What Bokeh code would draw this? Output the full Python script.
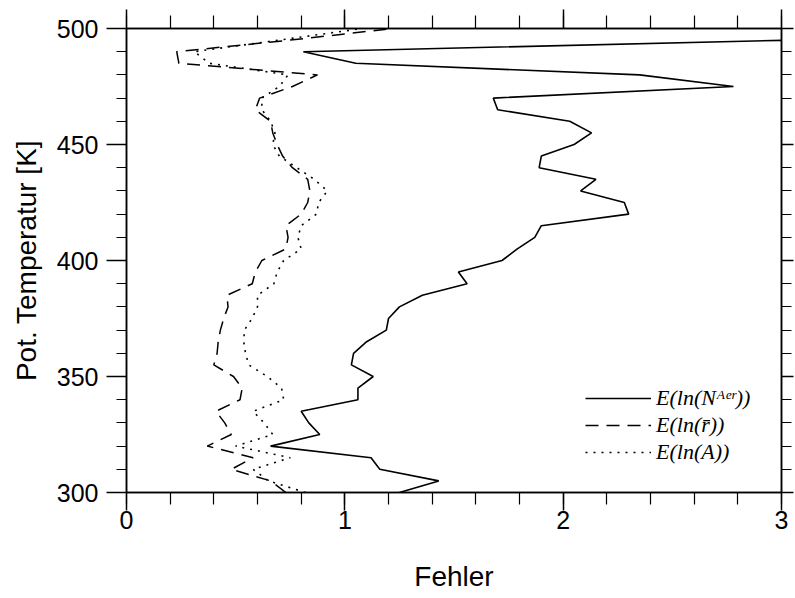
from bokeh.plotting import figure
from bokeh.models import (LinearAxis, FixedTicker, Range1d, Legend, LegendItem,
                          CustomLabelingPolicy)
from bokeh.embed import file_html
from bokeh.resources import INLINE

# potential temperature levels [K]
theta = [300, 305, 310, 315, 320, 325, 330, 335, 340, 345,
         350, 355, 360, 365, 370, 375, 380, 385, 390, 395,
         400, 405, 410, 415, 420, 425, 430, 435, 440, 445,
         450, 455, 460, 465, 470, 475, 480, 485, 490, 495, 500]

# E(ln(N^Aer)) (300..495 K)
err_N = [1.25, 1.43, 1.16, 1.12, 0.66, 0.885, 0.835, 0.80, 1.06, 1.06,
         1.13, 1.03, 1.04, 1.10, 1.19, 1.20, 1.25, 1.355, 1.56, 1.52,
         1.72, 1.79, 1.87, 1.90, 2.30, 2.28, 2.08, 2.15, 1.89, 1.90,
         2.05, 2.13, 2.03, 1.70, 1.68, 2.78, 2.35, 1.05, 0.81, 3.05]

# E(ln(r))
err_r = [0.73, 0.66, 0.48, 0.58, 0.37, 0.48, 0.45, 0.41, 0.52, 0.53,
         0.49, 0.40, 0.415, 0.42, 0.43, 0.445, 0.465, 0.46, 0.576, 0.59,
         0.62, 0.73, 0.74, 0.73, 0.80, 0.83, 0.84, 0.83, 0.76, 0.715,
         0.69, 0.67, 0.66, 0.59, 0.61, 0.76, 0.875, 0.24, 0.23, 0.75, 1.22]

# E(ln(A))
err_A = [0.82, 0.65, 0.58, 0.75, 0.50, 0.67, 0.63, 0.58, 0.72, 0.71,
         0.645, 0.56, 0.545, 0.537, 0.54, 0.575, 0.60, 0.60, 0.675, 0.69,
         0.72, 0.80, 0.785, 0.80, 0.87, 0.88, 0.92, 0.86, 0.78, 0.70,
         0.67, 0.68, 0.66, 0.62, 0.62, 0.70, 0.74, 0.38, 0.31, 0.70, 1.08]

x_major = [0, 1, 2, 3]
x_minor = [i * 0.2 for i in range(16)]
y_major = [300, 350, 400, 450, 500]
y_minor = list(range(300, 510, 10))

labels = ["E(ln(Nᴬᵉʳ))", "E(ln(r̄))", "E(ln(A))"]

FONT = "Liberation Sans"

p = figure(frame_width=655, frame_height=464,
           x_range=Range1d(0, 3), y_range=Range1d(300, 500),
           output_backend="svg", toolbar_location=None,
           min_border_left=126, min_border_top=28,
           min_border_right=0, min_border_bottom=0,
           x_axis_location=None, y_axis_location=None)
p.xgrid.visible = False
p.ygrid.visible = False
p.outline_line_color = "black"
p.outline_line_width = 1.5
p.background_fill_color = "white"
p.border_fill_color = "white"

no_labels = CustomLabelingPolicy(
    code="return new indices.constructor(indices.size, 0)")


def style_axis(ax, major, minor, tick_major, tick_minor, show_labels):
    ax.ticker = FixedTicker(ticks=major, minor_ticks=minor)
    ax.axis_line_color = "black"
    ax.axis_line_width = 1.5
    ax.major_tick_line_color = "black"
    ax.major_tick_line_width = 1.5
    ax.minor_tick_line_color = "black"
    ax.minor_tick_line_width = 1.2
    ax.major_tick_in = 0
    ax.minor_tick_in = 0
    ax.major_tick_out = tick_major
    ax.minor_tick_out = tick_minor
    if show_labels:
        ax.major_label_text_font = FONT
        ax.major_label_text_font_size = "25px"
        ax.major_label_text_color = "black"
    else:
        ax.major_label_policy = no_labels
        ax.major_label_text_font_size = "1px"
        ax.major_label_standoff = 0


xb = LinearAxis(axis_label="Fehler")
style_axis(xb, x_major, x_minor, 18, 12, True)
xb.major_label_standoff = 0
xb.axis_label_standoff = 29
xb.axis_label_text_font = FONT
xb.axis_label_text_font_size = "28px"
xb.axis_label_text_font_style = "normal"
xb.axis_label_text_color = "black"
p.add_layout(xb, "below")

yl = LinearAxis(axis_label="Pot. Temperatur [K]")
style_axis(yl, y_major, y_minor, 20, 10, True)
yl.major_label_standoff = 8
yl.axis_label_standoff = 12
yl.axis_label_text_font = FONT
yl.axis_label_text_font_size = "28px"
yl.axis_label_text_font_style = "normal"
yl.axis_label_text_color = "black"
p.add_layout(yl, "left")

xt = LinearAxis()
style_axis(xt, x_major, x_minor, 19, 13, False)
p.add_layout(xt, "above")

yr = LinearAxis()
style_axis(yr, y_major, y_minor, 12, 10, False)
p.add_layout(yr, "right")

rN = p.line(err_N, theta[:len(err_N)], line_color="black", line_width=1.6)
rR = p.line(err_r, theta, line_color="black", line_width=1.5, line_dash="13 8")
rA = p.line(err_A, theta, line_color="black", line_width=1.6, line_dash="2 6")

legend = Legend(items=[LegendItem(label=labels[0], renderers=[rN]),
                       LegendItem(label=labels[1], renderers=[rR]),
                       LegendItem(label=labels[2], renderers=[rA])],
                location=(459, 27))
legend.glyph_width = 66
legend.glyph_height = 20
legend.label_height = 20
legend.label_standoff = 5
legend.spacing = 1
legend.padding = 2
legend.margin = 0
legend.border_line_color = None
legend.background_fill_alpha = 0
legend.label_text_font = "Liberation Serif"
legend.label_text_font_style = "italic"
legend.label_text_font_size = "22px"
legend.label_text_color = "black"
p.add_layout(legend, "center")

open("out.html", "w").write(file_html(p, INLINE))
